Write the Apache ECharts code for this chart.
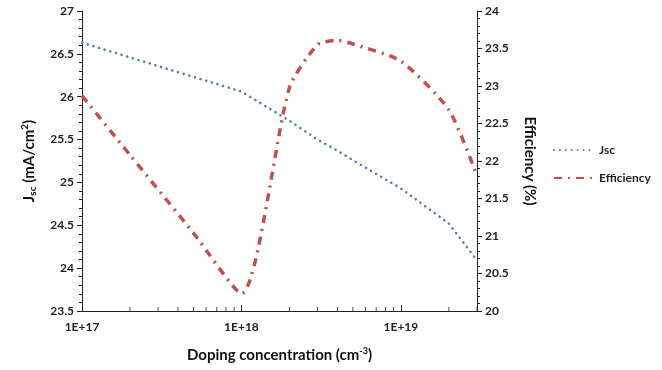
<!DOCTYPE html>
<html>
<head>
<meta charset="utf-8">
<script src="https://cdn.jsdelivr.net/npm/echarts@6/dist/echarts.min.js"></script>
<style>html,body{margin:0;padding:0;background:#fff;}#c{width:662px;height:370px;}</style>
</head>
<body>
<div id="c"></div>
<script>
// Doping concentration (cm^-3)
const doping = [1e17, 1e18, 2e18, 3e18, 4e18, 5e18, 1e19, 2e19, 3e19];
// Jsc (mA/cm2)
const jsc = [26.63, 26.06, 25.72, 25.50, 25.37, 25.26, 24.93, 24.52, 24.09];
// Efficiency (%)
const effX = [1e17, 2e17, 5e17, 1e18, 2e18, 3e18, 4e18, 5e18, 1e19, 2e19, 3e19];
const efficiency = [22.87, 22.08, 21.04, 20.23, 22.98, 23.55, 23.61, 23.56, 23.33, 22.68, 21.80];
// minor tick positions of log x-axis
const minorTicks = [2e17,3e17,4e17,5e17,6e17,7e17,8e17,9e17,2e18,3e18,4e18,5e18,6e18,7e18,8e18,9e18,2e19,3e19];

const FONT = 'Lato';
const chart = echarts.init(document.getElementById('c'));
chart.setOption({
  animation: false,
  backgroundColor: '#fff',
  textStyle: {fontFamily: FONT},
  grid: {left: 82, right: 185, top: 11, bottom: 59, containLabel: false},
  legend: {
    orient: 'vertical', left: 548, top: 139, itemWidth: 40, itemHeight: 12, itemGap: 16,
    itemStyle: {opacity: 0},
    textStyle: {fontFamily: FONT, fontWeight: 'bold', fontSize: 12, color: '#222'},
    data: ['Jsc', 'Efficiency']
  },
  xAxis: {
    type: 'log', logBase: 10, min: 1e17, max: 3e19,
    name: 'Doping concentration (cm{sup|-3})',
    nameLocation: 'middle', nameGap: 36,
    nameTextStyle: {fontFamily: FONT, fontWeight: 'bold', fontSize: 15, color: '#111',
      rich: {sup: {fontSize: 9, fontWeight: 'bold', verticalAlign: 'top', padding: [0,0,8,0], color: '#111'}}},
    axisLine: {lineStyle: {color: '#222', width: 1}},
    axisTick: {inside: true, length: 6, lineStyle: {color: '#222'}},
    axisLabel: {fontFamily: FONT, fontWeight: 'bold', fontSize: 12, color: '#222', margin: 10, showMaxLabel: false,
      formatter: v => { const e = Math.round(Math.log10(v)); return Math.abs(Math.log10(v) - e) < 1e-6 ? '1E+' + e : ''; }},
    splitLine: {show: false}
  },
  yAxis: [{
    type: 'value', min: 23.5, max: 27, interval: 0.5, position: 'left',
    name: '{b|J}{sub|sc}{b| (mA/cm}{sup|2}{b|)}',
    nameLocation: 'middle', nameGap: 44, nameRotate: 90,
    nameTextStyle: {rich: {
      b: {fontFamily: FONT, fontWeight: 'bold', fontSize: 15, color: '#111'},
      sub: {fontFamily: FONT, fontWeight: 'bold', fontSize: 10, color: '#111', padding: [8,0,0,0]},
      sup: {fontFamily: FONT, fontWeight: 'bold', fontSize: 10, color: '#111', padding: [0,0,8,0]}
    }},
    axisLine: {show: true, lineStyle: {color: '#222'}},
    axisTick: {show: true, length: 5, lineStyle: {color: '#222'}},
    minorTick: {show: true, splitNumber: 5, length: 3, lineStyle: {color: '#222'}},
    axisLabel: {fontFamily: FONT, fontWeight: 'bold', fontSize: 12, color: '#222', margin: 8},
    splitLine: {show: false}
  }, {
    type: 'value', min: 20, max: 24, interval: 0.5, position: 'right',
    name: 'Efficiency (%)',
    nameLocation: 'middle', nameGap: 45, nameRotate: -90,
    nameTextStyle: {fontFamily: FONT, fontWeight: 'bold', fontSize: 15, color: '#111'},
    axisLine: {show: true, lineStyle: {color: '#222'}},
    axisTick: {show: true, length: 5, lineStyle: {color: '#222'}},
    minorTick: {show: true, splitNumber: 5, length: 3, lineStyle: {color: '#222'}},
    axisLabel: {fontFamily: FONT, fontWeight: 'bold', fontSize: 12, color: '#222', margin: 8},
    splitLine: {show: false}
  }],
  series: [{
    name: 'Jsc', type: 'line', yAxisIndex: 0, showSymbol: false, symbol: 'none', smooth: false,
    data: doping.map((x, i) => [x, jsc[i]]),
    itemStyle: {color: '#4F81BD'},
    lineStyle: {color: '#4F81BD', width: 2.6, type: [0.1, 5.8], cap: 'round'}
  }, {
    name: 'Efficiency', type: 'line', yAxisIndex: 1, showSymbol: false, symbol: 'none', smooth: 0.22,
    data: effX.map((x, i) => [x, efficiency[i]]),
    itemStyle: {color: '#C0504D'},
    lineStyle: {color: '#C0504D', width: 3.5, type: [8, 6, 2, 6], cap: 'butt'}
  }, {
    name: 'minor', type: 'scatter', yAxisIndex: 0, silent: true, clip: false,
    symbol: 'rect', symbolSize: [1, 4], symbolOffset: [0, -2],
    itemStyle: {color: '#222'},
    data: minorTicks.map(x => [x, 23.5]),
    z: 5
  }]
});
</script>
</body>
</html>
